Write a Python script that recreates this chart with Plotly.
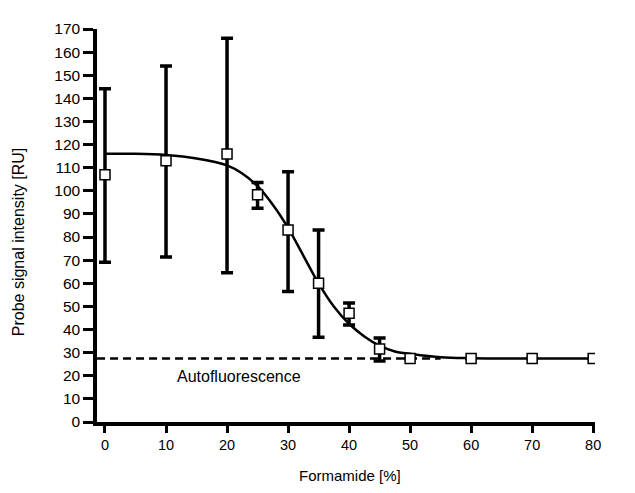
import plotly.graph_objects as go

formamide = [0, 10, 20, 25, 30, 35, 40, 45, 50, 60, 70, 80]
signal = [107, 113, 115.9, 98.3, 83, 60, 47, 31.6, 27.5, 27.5, 27.5, 27.5]
err_plus = [37.2, 41, 50.1, 5.3, 25.2, 23, 4.5, 4.7, 0, 0, 0, 0]
err_minus = [37.9, 41.6, 51.3, 5.8, 26.5, 23.3, 5, 5.2, 0, 0, 0, 0]

# Fitted curve
curve_x = [0, 5, 10, 15, 20, 22.5, 25, 27.5, 30, 32.5, 35, 37.5, 40, 42.5, 45, 47.5, 50, 55, 60, 80]
curve_y = [116, 116, 115.5, 114, 111, 107.5, 102, 94, 84, 72, 60, 50, 42.5, 37, 33, 30.5, 29.5, 28, 27.6, 27.5]

# Autofluorescence level
auto_x = [-1.3, 55]
auto_y = [27.5, 27.5]

x_ticks = [0, 10, 20, 30, 40, 50, 60, 70, 80]
y_ticks = list(range(0, 171, 10))

font_family = "Liberation Sans, Arial, sans-serif"

fig = go.Figure()

fig.add_trace(go.Scatter(
    x=auto_x, y=auto_y, mode="lines",
    line=dict(color="black", width=2.5, dash="8px,5px"),
    hoverinfo="skip", showlegend=False,
))

fig.add_trace(go.Scatter(
    x=curve_x, y=curve_y, mode="lines",
    line=dict(color="black", width=2.5, shape="spline", smoothing=1.0),
    showlegend=False,
))

fig.add_trace(go.Scatter(
    x=formamide, y=signal, mode="markers",
    marker=dict(symbol="square", size=10, color="white",
                line=dict(color="black", width=1.5)),
    error_y=dict(type="data", symmetric=False, array=err_plus, arrayminus=err_minus,
                 color="black", thickness=3.5, width=6),
    showlegend=False,
))

fig.add_annotation(
    x=22, y=19.5, text="Autofluorescence", showarrow=False,
    font=dict(family=font_family, size=16, color="black"),
)

# Axis titles as annotations for exact placement
fig.add_annotation(
    xref="paper", yref="paper", x=-0.1586, y=0.4575,
    text="Probe signal intensity [RU]", textangle=-90, showarrow=False,
    xanchor="center", yanchor="middle",
    font=dict(family=font_family, size=16, color="black"),
)
fig.add_annotation(
    xref="paper", yref="paper", x=0.508, y=-0.135,
    text="Formamide [%]", showarrow=False,
    xanchor="center", yanchor="middle",
    font=dict(family=font_family, size=15, color="black"),
)

fig.update_layout(
    width=635, height=493,
    margin=dict(l=89, r=48, t=14, b=79),
    paper_bgcolor="white", plot_bgcolor="white",
    font=dict(family=font_family, size=15, color="black"),
    xaxis=dict(
        range=[-1.31, 80.3], tickvals=x_ticks, ticktext=[str(v) for v in x_ticks],
        showline=True, linecolor="black", linewidth=3.5,
        ticks="outside", ticklen=7, tickwidth=3, tickcolor="black",
        showgrid=False, zeroline=False,
        tickfont=dict(size=14.5),
    ),
    yaxis=dict(
        range=[0, 170], tickvals=y_ticks, ticktext=[str(v) for v in y_ticks],
        showline=True, linecolor="black", linewidth=3.5,
        ticks="outside", ticklen=10, tickwidth=3, tickcolor="black",
        showgrid=False, zeroline=False,
        tickfont=dict(size=15.5),
    ),
)

fig.write_html("out.html")
